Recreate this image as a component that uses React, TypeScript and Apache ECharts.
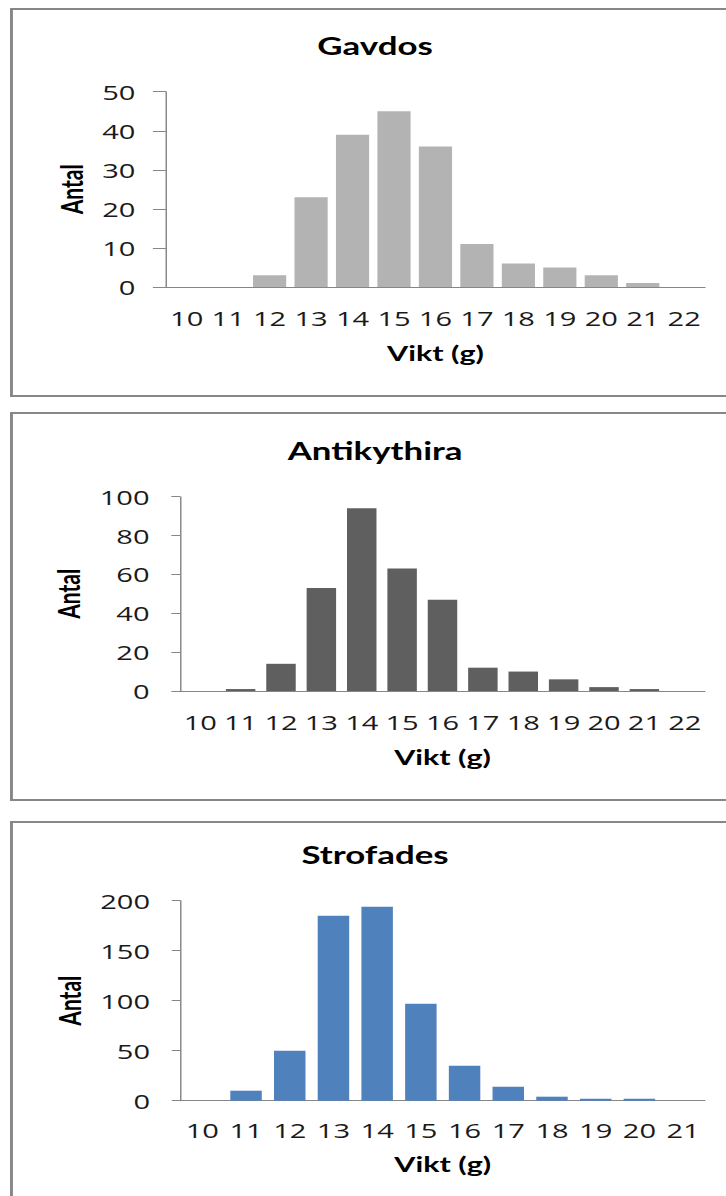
import React, { useEffect, useRef } from 'react';
import * as echarts from 'echarts';

// ---------- data ----------
const weightsGA = ['10', '11', '12', '13', '14', '15', '16', '17', '18', '19', '20', '21', '22'];
const gavdosCounts = [0, 0, 3, 23, 39, 45, 36, 11, 6, 5, 3, 1, 0];
const antikythiraCounts = [0, 1, 14, 53, 94, 63, 47, 12, 10, 6, 2, 1, 0];
const weightsS = ['10', '11', '12', '13', '14', '15', '16', '17', '18', '19', '20', '21'];
const strofadesCounts = [0, 10, 50, 185, 194, 97, 35, 14, 4, 2, 2, 0];
const panelTitles = ['Gavdos', 'Antikythira', 'Strofades'];
const yMaxes = [50, 100, 200];
const ySteps = [10, 20, 50];
const xName = 'Vikt (g)';
const yName = 'Antal';

// ---------- layout / style ----------
const SX = 1.452; // original picture is horizontally stretched
const W = 500;
const H = 1196;
const FONT = 'Lato, "Open Sans", sans-serif';
const TICK_FONT = '"Open Sans", Lato, sans-serif';
const TICK_SIZE = 20;
const AXIS_COLOR = '#868686';
const TEXT_COLOR = '#1a1a1a';
const barColors = ['#b3b3b3', '#5f5f5f', '#4f81bd'];
const gridRight = 485.5;
const titleX = 258.3;

const layout = [
  { boxTop: 9, boxH: 387, gridLeft: 114.3, gridTop: 91.7, gridH: 195.3, tick: 9, labelMargin: 20.5, nameGap: 55, yNameGap: 54, barGap: '20%' },
  { boxTop: 413, boxH: 387, gridLeft: 124, gridTop: 496.7, gridH: 194.3, tick: 6, labelMargin: 20.5, nameGap: 55, yNameGap: 62.5, barGap: '27%' },
  { boxTop: 822, boxH: 600, gridLeft: 124.3, gridTop: 900.7, gridH: 200, tick: 6, labelMargin: 19, nameGap: 53, yNameGap: 62.5, barGap: '28%' },
];

const categorySets = [weightsGA, weightsGA, weightsS];
const valueSets = [gavdosCounts, antikythiraCounts, strofadesCounts];

function buildOption() {
  const grid: any[] = [];
  const xAxis: any[] = [];
  const yAxis: any[] = [];
  const series: any[] = [];
  const graphic: any[] = [];

  layout.forEach((L, i) => {
    grid.push({
      left: L.gridLeft,
      top: L.gridTop,
      width: gridRight - L.gridLeft,
      height: L.gridH,
      containLabel: false,
      outerBoundsMode: 'none',
    });
    xAxis.push({
      type: 'category',
      gridIndex: i,
      data: categorySets[i],
      boundaryGap: true,
      axisLine: { show: true, lineStyle: { color: AXIS_COLOR, width: 1 } },
      axisTick: { show: false },
      axisLabel: {
        interval: 0,
        margin: L.labelMargin,
        fontFamily: TICK_FONT,
        fontSize: TICK_SIZE,
        lineHeight: TICK_SIZE,
        color: TEXT_COLOR,
      },
      splitLine: { show: false },
      name: xName,
      nameLocation: 'middle',
      nameGap: L.nameGap,
      nameTextStyle: { fontFamily: FONT, fontWeight: 'bold', fontSize: 21, lineHeight: 21, color: '#000' },
    });
    yAxis.push({
      type: 'value',
      gridIndex: i,
      min: 0,
      max: yMaxes[i],
      interval: ySteps[i],
      axisLine: { show: true, lineStyle: { color: AXIS_COLOR, width: 1 } },
      axisTick: { show: true, inside: false, length: L.tick, lineStyle: { color: AXIS_COLOR, width: 1 } },
      axisLabel: {
        margin: 21,
        fontFamily: TICK_FONT,
        fontSize: TICK_SIZE,
        lineHeight: TICK_SIZE,
        color: TEXT_COLOR,
      },
      splitLine: { show: false },
      name: yName,
      nameLocation: 'middle',
      nameGap: L.yNameGap,
      nameTextStyle: { fontFamily: FONT, fontWeight: 'bold', fontSize: 21, lineHeight: 21, color: '#000' },
    });
    series.push({
      type: 'bar',
      name: panelTitles[i],
      xAxisIndex: i,
      yAxisIndex: i,
      data: valueSets[i],
      barCategoryGap: L.barGap,
      itemStyle: { color: barColors[i] },
      emphasis: { disabled: true },
    });
    graphic.push({
      type: 'rect',
      shape: { x: 7.9, y: L.boxTop, width: 700, height: L.boxH },
      style: { fill: 'none', stroke: '#878787', lineWidth: 2 },
      silent: true,
    });
    graphic.push({
      type: 'text',
      x: titleX,
      y: L.gridTop - 46.4,
      style: {
        text: panelTitles[i],
        textAlign: 'center',
        textVerticalAlign: 'middle',
        fontFamily: FONT,
        fontWeight: 'bold',
        fontSize: 24,
        fill: '#000',
      },
      silent: true,
    });
  });

  return {
    animation: false,
    backgroundColor: '#ffffff',
    tooltip: { show: false },
    grid,
    xAxis,
    yAxis,
    series,
    graphic,
  };
}

export default function App() {
  const ref = useRef<HTMLDivElement>(null);
  useEffect(() => {
    if (!ref.current) return;
    const chart = echarts.init(ref.current, null, { renderer: 'svg', width: W, height: H });
    chart.setOption(buildOption());
    return () => chart.dispose();
  }, []);
  return (
    <div
      ref={ref}
      style={{
        position: 'absolute',
        left: 0,
        top: 0,
        width: W,
        height: H,
        transform: `scaleX(${SX})`,
        transformOrigin: '0 0',
        background: '#fff',
      }}
    />
  );
}
